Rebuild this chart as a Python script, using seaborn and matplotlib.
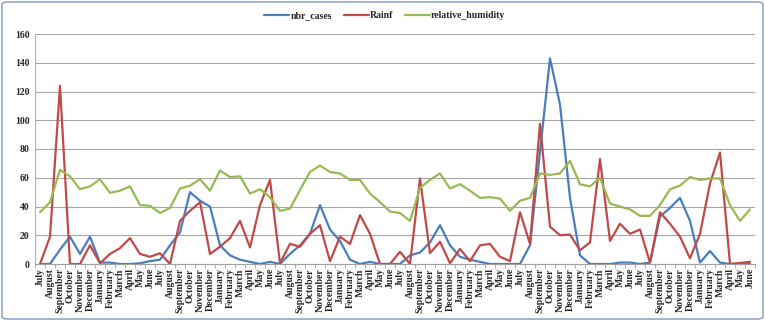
import matplotlib
matplotlib.use("Agg")
import matplotlib.pyplot as plt
from matplotlib.patches import FancyBboxPatch
import seaborn as sns
import pandas as pd
import numpy as np

month_names = ["July", "August", "September", "October", "November", "December",
               "January", "February", "March", "April", "May", "June"]
tick_labels = month_names * 6

nbr_cases = [0, 0, 10, 19, 7, 19, 1, 1, 0, 0, 0.5, 2,
             3, 13, 22, 50, 44, 40, 13, 6, 3, 1.5, 0, 1.5,
             0, 7, 13, 21, 41, 24, 16, 3, 0, 1.5, 0, 0,
             0, 6, 8, 15, 27, 13, 5, 3, 1.5, 0, 0, 0,
             0, 13, 78, 143, 111, 46, 6, 0, 0, 0, 1, 1,
             0, 1, 33, 39, 46, 30, 1, 9, 1, 0, 0, 0]

rainf = [0, 19, 124, 0, 0, 13, 0.5, 7, 11, 18, 7, 5,
         7.5, 0, 30, 37, 43, 7, 12, 18, 30, 11.5, 41, 58.5,
         0.5, 14, 12, 21, 27, 2, 19, 14, 34, 21, 0, 0,
         8.5, 0, 59.5, 7.5, 15.5, 0.5, 10.5, 2, 13, 14, 5, 2,
         36, 14, 97.5, 26, 20, 20.5, 9.5, 15, 73, 16, 28, 21,
         24, 1, 36, 28, 19, 4, 21, 56, 77.5, 0, 0.7, 1.5]

relative_humidity = [36, 43, 65.5, 61, 52, 54, 59, 49.5, 51, 54, 41, 40.5,
                     35.5, 39, 52.5, 54.5, 59, 51, 65, 60.5, 61, 49, 52, 46.5,
                     37, 38.5, 51.5, 64, 68.5, 64, 63, 58.5, 58.5, 49, 43, 36.5,
                     35.5, 30, 53, 58.5, 63, 52.5, 55.5, 51, 46, 46.5, 45.5, 37,
                     44, 46, 63, 62, 63, 71.7, 55.5, 54, 60, 42, 40, 38,
                     33.5, 33.5, 41, 52, 54.5, 60.5, 58.5, 59.5, 59.5, 41, 30, 38]

series_names = ["nbr_cases", "Rainf", "relative_humidity"]
series_colors = ["#4a7ebb", "#be4b48", "#98b954"]

idx = np.arange(len(tick_labels))
df = pd.DataFrame({
    "idx": np.concatenate([idx, idx, idx]),
    "value": nbr_cases + rainf + relative_humidity,
    "series": np.repeat(series_names, len(tick_labels)),
})

sns.set_theme(style="white")
plt.rcParams["font.family"] = ["Liberation Serif", "DejaVu Serif"]
plt.rcParams["font.weight"] = "bold"

fig = plt.figure(figsize=(7.65, 3.21), dpi=100)
ax = fig.add_axes([35 / 765, 1 - 264 / 321, 720 / 765, 230 / 321])

sns.lineplot(data=df, x="idx", y="value", hue="series", hue_order=series_names,
             palette=series_colors, linewidth=1.6, ax=ax, legend=True)

ax.set_xlim(-0.5, len(tick_labels) - 0.5)
ax.set_ylim(0, 160)
ax.set_yticks(np.arange(0, 161, 20))
ax.set_yticklabels([str(v) for v in range(0, 161, 20)], fontsize=7, fontweight="bold")
ax.set_xticks(idx)
ax.set_xticklabels(tick_labels, rotation=90, fontsize=7, fontweight="bold")
ax.set_xticks(np.arange(-0.5, len(tick_labels), 1), minor=True)
ax.tick_params(axis="x", which="major", length=0, pad=3)
ax.tick_params(axis="x", which="minor", length=3, color="#a0a0a0", width=0.6, bottom=True)
ax.tick_params(axis="y", length=0, pad=4)
ax.set_xlabel("")
ax.set_ylabel("")
ax.grid(axis="y", color="#a6a6a6", linewidth=0.8)
ax.set_axisbelow(True)
for s in ["top", "right"]:
    ax.spines[s].set_visible(False)
ax.spines["left"].set_color("#b0b0b0")
ax.spines["bottom"].set_color("#a0a0a0")
ax.spines["left"].set_linewidth(0.8)
ax.spines["bottom"].set_linewidth(0.8)

handles, labels = ax.get_legend_handles_labels()
ax.get_legend().remove()
fig.legend(handles, labels, loc="center", bbox_to_anchor=(0.503, 1 - 16 / 321), ncol=3,
           frameon=False, fontsize=7, handlelength=2.6, handletextpad=0.1,
           columnspacing=1.2, prop={"weight": "bold", "size": 7})

border = FancyBboxPatch((2 / 765, 2 / 321), 761 / 765, 317 / 321,
                        boxstyle="round,pad=0,rounding_size=0.008",
                        transform=fig.transFigure, fill=False,
                        edgecolor="#8fa9cc", linewidth=1.2)
fig.patches.append(border)

fig.savefig("out.png", dpi=100)
